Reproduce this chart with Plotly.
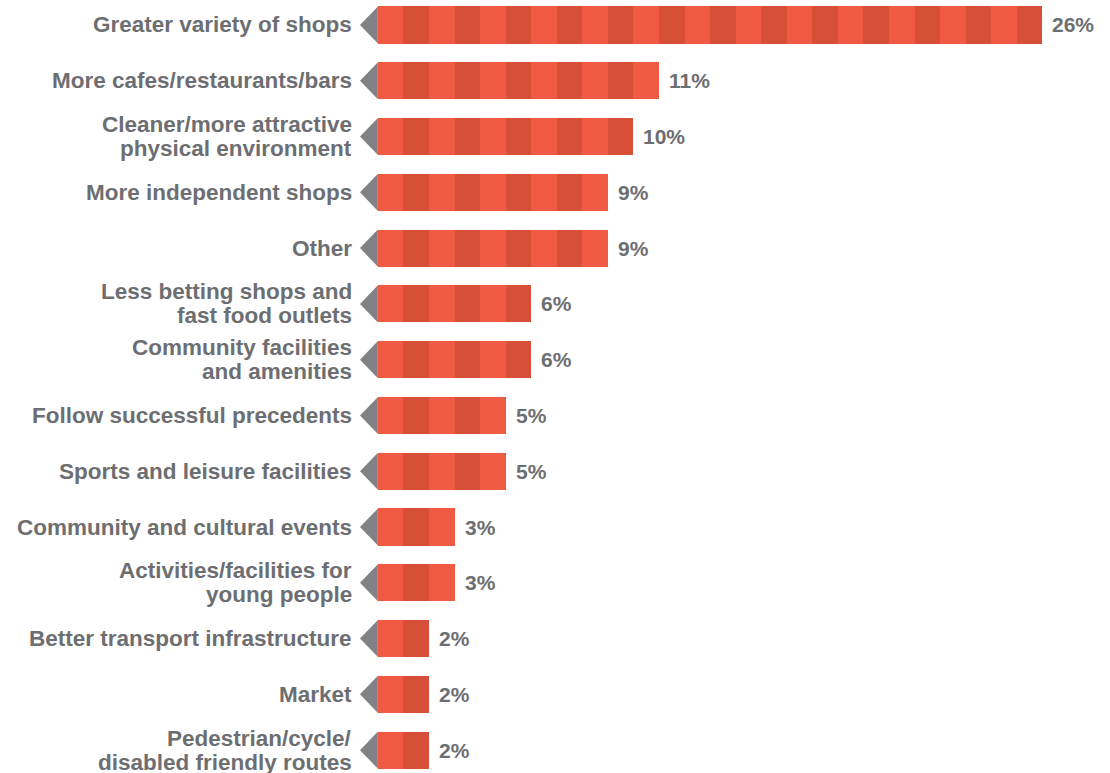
import plotly.graph_objects as go

categories = [
    "Greater variety of shops",
    "More cafes/restaurants/bars",
    "Cleaner/more attractive<br>physical environment",
    "More independent shops",
    "Other",
    "Less betting shops and<br>fast food outlets",
    "Community facilities<br>and amenities",
    "Follow successful precedents",
    "Sports and leisure facilities",
    "Community and cultural events",
    "Activities/facilities for<br>young people",
    "Better transport infrastructure",
    "Market",
    "Pedestrian/cycle/<br>disabled friendly routes",
]
values = [26, 11, 10, 9, 9, 6, 6, 5, 5, 3, 3, 2, 2, 2]

LIGHT = "#F15A42"
DARK = "#D84F38"
GREY_TRI = "#808285"
TEXT = "#6D6E71"
FONT = "Liberation Sans, Arial, sans-serif"

ypos = list(range(len(categories)))
bar_w = 0.665
tri_len = 0.7
line_gap = 24  # px between lines of two-line labels

fig = go.Figure()

# striped bars: one unit segment per percent, alternating colours
for k in range(max(values)):
    fig.add_trace(go.Bar(
        orientation="h",
        y=ypos,
        x=[1 if v > k else 0 for v in values],
        width=bar_w,
        marker=dict(color=LIGHT if k % 2 == 0 else DARK, line=dict(width=0)),
        hoverinfo="skip",
        showlegend=False,
    ))

# grey pointer triangles at the left of each bar
for y in ypos:
    fig.add_trace(go.Scatter(
        x=[-tri_len, 0, 0, -tri_len],
        y=[y, y - bar_w / 2, y + bar_w / 2, y],
        mode="lines",
        fill="toself",
        fillcolor=GREY_TRI,
        line=dict(width=0, color=GREY_TRI),
        hoverinfo="skip",
        showlegend=False,
    ))

annotations = []
for y, c, v in zip(ypos, categories, values):
    lines = c.split("<br>")
    n = len(lines)
    for i, ln in enumerate(lines):
        shift = ((n - 1) / 2 - i) * line_gap
        annotations.append(dict(
            x=-tri_len, y=y, xref="x", yref="y", text=ln,
            xanchor="right", yanchor="middle", align="right",
            xshift=-6, yshift=shift, showarrow=False,
            font=dict(family=FONT, size=22.5, color=TEXT, weight="bold"),
        ))
    annotations.append(dict(
        x=v, y=y, xref="x", yref="y", text=f"{v}%",
        xanchor="left", yanchor="middle",
        xshift=8, showarrow=False,
        font=dict(family=FONT, size=21, color=TEXT, weight="bold"),
    ))

fig.update_layout(
    width=1110, height=773,
    margin=dict(l=360, r=0, t=0, b=0),
    barmode="stack",
    bargap=0,
    plot_bgcolor="white",
    paper_bgcolor="white",
    xaxis=dict(range=[-0.7, 28.65], visible=False, fixedrange=True),
    yaxis=dict(range=[13.41, -0.448], visible=False, fixedrange=True),
    annotations=annotations,
)

fig.write_html(
    "out.html",
    config={"displayModeBar": False, "staticPlot": True},
    post_script="document.body.style.margin='0';document.body.style.overflow='hidden';",
)
